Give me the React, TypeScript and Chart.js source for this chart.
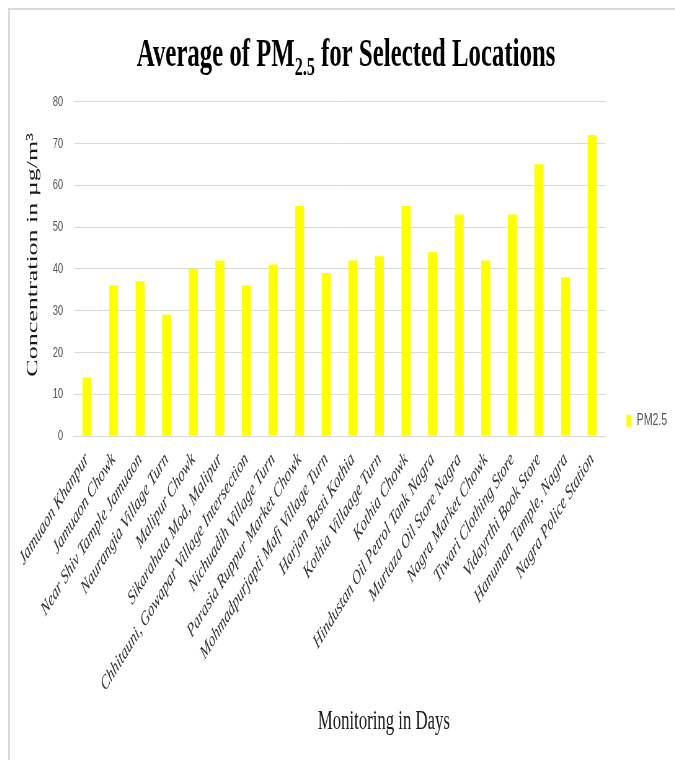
import React, { useEffect, useRef } from "react";
import { Chart, registerables } from "chart.js";

Chart.register(...registerables);

const categories: string[] = [
  "Jamuaon Khanpur",
  "Jamuaon Chowk",
  "Near Shiv Tample Jamuaon",
  "Naurangia Village Turn",
  "Malipur Chowk",
  "Sikarahata Mod, Malipur",
  "Chhitauni, Gowapar Village Intersection",
  "Nichuadih Village Turn",
  "Parasia Ruppur Market Chowk",
  "Mohmadpurjapti Mafi Village Turn",
  "Harjan Basti Kothia",
  "Kothia Villaage Turn",
  "Kothia Chowk",
  "Hindustan Oil Petrol Tank Nagra",
  "Murtaza Oil Store Nagra",
  "Nagra Market Chowk",
  "Tiwari Clothing Store",
  "Vidayrthi Book Store",
  "Hanuman Tample, Nagra",
  "Nagra Police Station",
];

const pm25Values: number[] = [14, 36, 37, 29, 40, 42, 36, 41, 55, 39, 42, 43, 55, 44, 53, 42, 53, 65, 38, 72];

const yTickValues: number[] = [0, 10, 20, 30, 40, 50, 60, 70, 80];

const seriesLabel = "PM2.5";
const titleMain = "Average of PM";
const titleSub = "2.5";
const titleRest = " for Selected Locations";
const yAxisTitle = "Concentration in µg/m³";
const xAxisTitle = "Monitoring in Days";

// Canvas is drawn wide, then squeezed horizontally (the reference is a squeezed picture)
const SQUEEZE = 0.62;
const CANVAS_W = 1072;
const CANVAS_H = 750;
const SERIF = "'Liberation Serif', 'Times New Roman', serif";
const SANS = "'Liberation Sans', Arial, sans-serif";

const titlesPlugin = {
  id: "customTitles",
  afterDraw(chart: any) {
    const ctx: CanvasRenderingContext2D = chart.ctx;
    const area = chart.chartArea;
    ctx.save();
    ctx.fillStyle = "#000000";
    ctx.textBaseline = "alphabetic";

    // Main title with subscript
    const bigFont = `bold 40px ${SERIF}`;
    const subFont = `bold 26px ${SERIF}`;
    ctx.font = bigFont;
    const w1 = ctx.measureText(titleMain).width;
    const w3 = ctx.measureText(titleRest).width;
    ctx.font = subFont;
    const w2 = ctx.measureText(titleSub).width;
    const total = w1 + w2 + w3;
    let x = 542 - total / 2;
    const baseY = 56;
    ctx.textAlign = "left";
    ctx.font = bigFont;
    ctx.fillText(titleMain, x, baseY);
    x += w1;
    ctx.font = subFont;
    ctx.fillText(titleSub, x, baseY + 9);
    x += w2;
    ctx.font = bigFont;
    ctx.fillText(titleRest, x, baseY);

    // X axis title
    ctx.fillStyle = "#1a1a1a";
    ctx.font = `27px ${SERIF}`;
    ctx.textAlign = "center";
    ctx.fillText(xAxisTitle, 603, 719);

    // Y axis title
    ctx.save();
    ctx.translate(44, (area.top + area.bottom) / 2 - 14);
    ctx.rotate(-Math.PI / 2);
    ctx.font = `26px ${SERIF}`;
    ctx.textAlign = "center";
    ctx.fillText(yAxisTitle, 0, 0);
    ctx.restore();

    ctx.restore();
  },
};

export default function App() {
  const canvasRef = useRef<HTMLCanvasElement | null>(null);

  useEffect(() => {
    const canvas = canvasRef.current;
    if (!canvas) return;
    const chart = new Chart(canvas, {
      type: "bar",
      data: {
        labels: categories,
        datasets: [
          {
            label: seriesLabel,
            data: pm25Values,
            backgroundColor: "#FFFF00",
            borderWidth: 0,
            categoryPercentage: 0.34,
            barPercentage: 1,
          },
        ],
      },
      options: {
        animation: false,
        responsive: false,
        devicePixelRatio: 1,
        layout: { padding: { top: 91.6, bottom: 20, left: 0, right: 2 } },
        plugins: {
          title: { display: false },
          tooltip: { enabled: false },
          legend: {
            position: "right",
            align: "center",
            labels: {
              boxWidth: 8,
              boxHeight: 12,
              padding: 34,
              color: "#595959",
              font: { family: SANS, size: 17 },
            },
          },
        },
        scales: {
          x: {
            grid: { display: false, drawTicks: false },
            border: { display: true, color: "#d9d9d9", width: 1 },
            ticks: {
              autoSkip: false,
              minRotation: 45,
              maxRotation: 45,
              padding: 12,
              color: "#333333",
              font: { family: SERIF, style: "italic", size: 20 },
            },
            afterFit: (scale: any) => {
              scale.height = 304;
            },
          },
          y: {
            min: 0,
            max: 80,
            grid: { color: "#d9d9d9", lineWidth: 1, drawTicks: false },
            border: { display: false },
            ticks: {
              padding: 17,
              color: "#595959",
              font: { family: SANS, size: 15 },
            },
            afterBuildTicks: (scale: any) => {
              scale.ticks = yTickValues.map((v) => ({ value: v }));
            },
            afterFit: (scale: any) => {
              scale.width = 102.6;
            },
          },
        },
      },
      plugins: [titlesPlugin],
    });
    return () => chart.destroy();
  }, []);

  return (
    <div
      style={{
        position: "absolute",
        left: 8,
        top: 8,
        width: 667,
        height: 752,
        boxSizing: "border-box",
        borderTop: "2px solid #d9d9d9",
        borderLeft: "2px solid #d9d9d9",
        overflow: "hidden",
        background: "#ffffff",
      }}
    >
      <canvas
        ref={canvasRef}
        width={CANVAS_W}
        height={CANVAS_H}
        style={{
          display: "block",
          width: CANVAS_W,
          height: CANVAS_H,
          transform: `scaleX(${SQUEEZE})`,
          transformOrigin: "0 0",
        }}
      />
    </div>
  );
}
